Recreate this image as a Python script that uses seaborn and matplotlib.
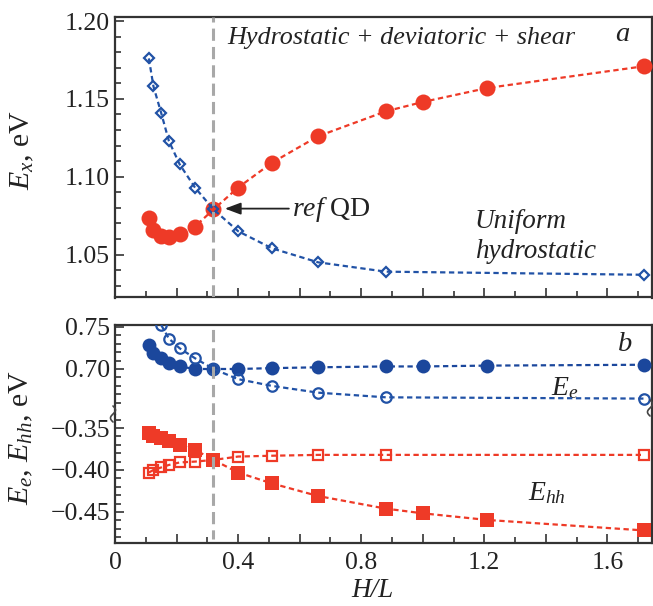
import numpy as np
import matplotlib
matplotlib.use("Agg")
import matplotlib.pyplot as plt
import seaborn as sns
from matplotlib.ticker import MultipleLocator, FixedLocator, FuncFormatter
from matplotlib.lines import Line2D

# ---------------- data ----------------
hl_full = [0.11, 0.125, 0.15, 0.175, 0.21, 0.26, 0.32, 0.40, 0.51, 0.66, 0.88, 1.0, 1.21, 1.72]
ex_full = [1.0735, 1.066, 1.062, 1.061, 1.063, 1.068, 1.079, 1.093, 1.109, 1.126, 1.142, 1.148, 1.157, 1.171]
hl_hydro = [0.11, 0.125, 0.15, 0.175, 0.21, 0.26, 0.32, 0.40, 0.51, 0.66, 0.88, 1.72]
ex_hydro = [1.176, 1.158, 1.141, 1.123, 1.108, 1.093, 1.079, 1.065, 1.054, 1.045, 1.039, 1.037]

ee_full = [0.728, 0.719, 0.713, 0.707, 0.703, 0.700, 0.700, 0.700, 0.701, 0.702, 0.703, 0.703, 0.704, 0.705]
hl_ee_hydro = [0.15, 0.175, 0.21, 0.26, 0.32, 0.40, 0.51, 0.66, 0.88, 1.72]
ee_hydro = [0.752, 0.736, 0.7245, 0.7127, 0.700, 0.688, 0.680, 0.672, 0.6665, 0.665]

ehh_full = [-0.356, -0.3595, -0.362, -0.366, -0.370, -0.376, -0.388, -0.403, -0.416, -0.431, -0.446, -0.4516, -0.4595, -0.472]
ehh_hydro = [-0.403, -0.400, -0.397, -0.394, -0.391, -0.390, -0.388, -0.384, -0.383, -0.382, -0.382, -0.382]

ref_hl = 0.32

# ---------------- style ----------------
sns.set_theme(style="ticks")
plt.rcParams["font.family"] = ["Liberation Serif", "DejaVu Serif"]
plt.rcParams["mathtext.fontset"] = "custom"
plt.rcParams["mathtext.rm"] = "Liberation Serif"
plt.rcParams["mathtext.it"] = "Liberation Serif:italic"
plt.rcParams["mathtext.bf"] = "Liberation Serif:bold"
plt.rcParams["axes.unicode_minus"] = True

RED = "#EE3A27"
BLUE = "#2152A6"
DBLUE = "#1B479C"
GRAY = "#A8A8A8"
SPINE = "#333333"
TXT = "#222222"
FS = 18.5     # tick labels
FT = 19       # annotations
DASH = (0, (2.4, 1.6))

W, H = 653, 606
fig = plt.figure(figsize=(W / 100, H / 100), dpi=100)

def fx(px):
    return px / W

def fy(py):
    return 1 - py / H

L, R = 115, 652
ax_a = fig.add_axes([fx(L), fy(297.5), fx(R) - fx(L), fy(16.7) - fy(297.5)])
ax_bu = fig.add_axes([fx(L), fy(415), fx(R) - fx(L), fy(325) - fy(415)])
ax_bl = fig.add_axes([fx(L), fy(543.3), fx(R) - fx(L), fy(415) - fy(543.3)])

def style_axes(ax, show_bottom=True, show_top=True):
    for s in ["top", "right", "left", "bottom"]:
        ax.spines[s].set_color(SPINE)
        ax.spines[s].set_linewidth(1.6)
    if not show_bottom:
        ax.spines["bottom"].set_visible(False)
    if not show_top:
        ax.spines["top"].set_visible(False)
    ax.tick_params(which="both", direction="in", top=False, right=False,
                   colors=SPINE, labelcolor=TXT, labelsize=FS, width=1.2)
    ax.tick_params(which="major", length=6.5)
    ax.tick_params(which="minor", length=4.5)
    ax.set_xlim(0, 1.745)
    ax.xaxis.set_major_locator(MultipleLocator(0.2))
    ax.xaxis.set_minor_locator(MultipleLocator(0.1))
    ax.set_xlabel("")
    ax.set_ylabel("")

def xfmt(v, pos):
    k = round(v / 0.4, 6)
    if abs(k - round(k)) < 1e-6:
        return "0" if abs(v) < 1e-9 else f"{v:.1f}"
    return ""

# ---------------- panel a ----------------
sns.lineplot(x=hl_full, y=ex_full, ax=ax_a, color=RED, linestyle=DASH, linewidth=1.6,
             marker="o", markersize=11.5, markerfacecolor=RED, markeredgecolor=RED,
             markeredgewidth=0, zorder=3)
sns.lineplot(x=hl_hydro, y=ex_hydro, ax=ax_a, color=BLUE, linestyle=DASH, linewidth=1.6,
             marker="D", markersize=5.5, markerfacecolor="none", markeredgecolor=BLUE,
             markeredgewidth=1.6, zorder=4)
ax_a.axvline(ref_hl, color=GRAY, linewidth=2.2, linestyle=(0, (4, 2)), zorder=6)
style_axes(ax_a)
ax_a.set_ylim(1.0224, 1.2028)
ax_a.yaxis.set_major_locator(MultipleLocator(0.05))
ax_a.yaxis.set_minor_locator(MultipleLocator(0.01))
ax_a.yaxis.set_major_formatter(FuncFormatter(lambda v, p: f"{v:.2f}"))
ax_a.tick_params(axis="x", labelbottom=False)

ax_a.text(0.210, 0.924, "Hydrostatic + deviatoric + shear", transform=ax_a.transAxes,
          fontsize=FT - 0.2, fontstyle="italic", ha="left", va="center", color=TXT)
ax_a.text(0.945, 0.935, "a", transform=ax_a.transAxes, fontsize=FT + 1.5,
          fontstyle="italic", ha="center", va="center", color=TXT)
ax_a.annotate("", xy=(0.357, 1.0795), xytext=(0.565, 1.0795),
              arrowprops=dict(arrowstyle="-|>,head_length=0.8,head_width=0.3",
                              color=TXT, lw=1.3, shrinkA=0, shrinkB=0))
ax_a.text(0.330, 0.312, r"$\mathit{ref}$ QD", transform=ax_a.transAxes, fontsize=FT + 1,
          ha="left", va="center", color=TXT)
ax_a.text(0.670, 0.272, "Uniform", transform=ax_a.transAxes, fontsize=FT + 0.5,
          fontstyle="italic", ha="left", va="center", color=TXT)
ax_a.text(0.670, 0.163, "hydrostatic", transform=ax_a.transAxes, fontsize=FT + 0.5,
          fontstyle="italic", ha="left", va="center", color=TXT)

# ---------------- panel b (broken axis) ----------------
sns.lineplot(x=hl_full, y=ee_full, ax=ax_bu, color=DBLUE, linestyle=DASH, linewidth=1.6,
             marker="o", markersize=10, markerfacecolor=DBLUE, markeredgecolor=DBLUE,
             markeredgewidth=0, zorder=3)
sns.lineplot(x=hl_ee_hydro, y=ee_hydro, ax=ax_bu, color=BLUE, linestyle=DASH, linewidth=1.6,
             marker="o", markersize=7.5, markerfacecolor="none", markeredgecolor=BLUE,
             markeredgewidth=1.6, zorder=4)
sns.lineplot(x=hl_full, y=ehh_full, ax=ax_bl, color=RED, linestyle=DASH, linewidth=1.6,
             marker="s", markersize=10.5, markerfacecolor=RED, markeredgecolor=RED,
             markeredgewidth=0, zorder=3)
sns.lineplot(x=hl_hydro, y=ehh_hydro, ax=ax_bl, color=RED, linestyle=DASH, linewidth=1.6,
             marker="s", markersize=7.5, markerfacecolor="none", markeredgecolor=RED,
             markeredgewidth=1.6, zorder=4)
ax_bu.axvline(ref_hl, color=GRAY, linewidth=2.2, linestyle=(0, (4, 2)), zorder=6)
ax_bl.axvline(ref_hl, ymin=0.03, ymax=1, color=GRAY, linewidth=2.2, linestyle=(1, (4, 2)), zorder=6)

style_axes(ax_bu, show_bottom=False)
style_axes(ax_bl, show_top=False)
ax_bu.set_ylim(0.6456, 0.752)
ax_bu.yaxis.set_major_locator(FixedLocator([0.70, 0.75]))
ax_bu.yaxis.set_minor_locator(FixedLocator(list(np.arange(0.66, 0.755, 0.01))))
ax_bu.yaxis.set_major_formatter(FuncFormatter(lambda v, p: f"{v:.2f}"))
ax_bu.tick_params(axis="x", which="both", bottom=False, labelbottom=False)

ax_bl.set_ylim(-0.4873, -0.3345)
ax_bl.yaxis.set_major_locator(FixedLocator([-0.45, -0.40, -0.35]))
ax_bl.yaxis.set_minor_locator(FixedLocator(list(np.arange(-0.48, -0.335, 0.01))))
ax_bl.yaxis.set_major_formatter(FuncFormatter(lambda v, p: f"{v:.2f}".replace("-", "\u2212")))
ax_bl.xaxis.set_major_formatter(FuncFormatter(xfmt))
ax_bl.tick_params(axis="x", pad=6)

ax_bu.text(0.95, 0.778, "b", transform=ax_bu.transAxes, fontsize=FT + 1.5,
           fontstyle="italic", ha="center", va="center", color=TXT)
ax_bu.text(0.838, 0.30, r"$E_e$", transform=ax_bu.transAxes, fontsize=FT + 1,
           ha="center", va="center", color=TXT)
ax_bl.text(0.804, 0.39, r"$E_{hh}$", transform=ax_bl.transAxes, fontsize=FT + 1,
           ha="center", va="center", color=TXT)

# break marks (decoration)
def squiggle(x0, y0):
    t = np.linspace(0, 1, 40)
    xs = x0 + 2.5 * np.sin(2 * np.pi * t)
    ys = y0 + (t - 0.5) * 16
    fig.add_artist(Line2D(fx(xs), fy(ys), transform=fig.transFigure,
                          color="#444444", lw=1.2))

squiggle(113, 414)
squiggle(650, 408)

# axis labels
fig.text(fx(22), fy(150), r"$E_x$, eV", rotation=90, fontsize=FT + 2.5,
         ha="center", va="center", color=TXT)
fig.text(fx(21), fy(438), r"$E_e$, $E_{hh}$, eV", rotation=90, fontsize=FT + 2.5,
         ha="center", va="center", color=TXT)
fig.text(fx(372), fy(603), "H/L", fontsize=FT + 0.5, fontstyle="italic",
         ha="center", va="bottom", color=TXT)

fig.savefig("out.png", dpi=100)
